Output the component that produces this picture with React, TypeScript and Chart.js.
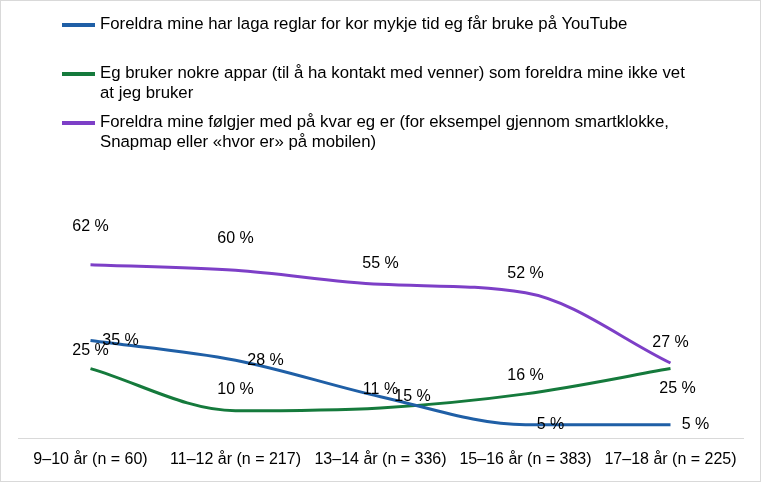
import React, { useEffect, useRef } from "react";
import Chart from "chart.js/auto";

const categories = ["9–10 år (n = 60)", "11–12 år (n = 217)", "13–14 år (n = 336)", "15–16 år (n = 383)", "17–18 år (n = 225)"];
const blueName = "Foreldra mine har laga reglar for kor mykje tid eg får bruke på YouTube";
const greenName = "Eg bruker nokre appar (til å ha kontakt med venner) som foreldra mine ikke vet at jeg bruker";
const purpleName = "Foreldra mine følgjer med på kvar eg er (for eksempel gjennom smartklokke, Snapmap eller «hvor er» på mobilen)";
const blueValues = [35, 28, 15, 5, 5];
const greenValues = [25, 10, 11, 16, 25];
const purpleValues = [62, 60, 55, 52, 27];
const blueLabels = ["35 %", "28 %", "15 %", "5 %", "5 %"];
const greenLabels = ["25 %", "10 %", "11 %", "16 %", "25 %"];
const purpleLabels = ["62 %", "60 %", "55 %", "52 %", "27 %"];
const blueOffsets = [[30, 0], [30, 0], [32, 0], [25, 0], [25, 0]];
const greenOffsets = [[0, -18], [0, -21], [0, -18], [0, -18], [7, 20]];
const purpleOffsets = [[0, -38], [0, -32], [0, -21], [0, -19], [0, -20]];

const BLUE = "#1f5fa6", GREEN = "#157a3c", PURPLE = "#7d3fc7";
const FONT = "'Liberation Sans', Arial";

export default function App() {
  const ref = useRef<HTMLCanvasElement>(null);
  useEffect(() => {
    const labelPlugin = {
      id: "lbl",
      afterDatasetsDraw(chart: any) {
        const ctx = chart.ctx;
        ctx.save();
        ctx.font = "16px " + FONT;
        ctx.fillStyle = "#000";
        ctx.textAlign = "center";
        ctx.textBaseline = "middle";
        const sets = [[blueLabels, blueOffsets], [greenLabels, greenOffsets], [purpleLabels, purpleOffsets]];
        sets.forEach(([labs, offs]: any, di) => {
          const meta = chart.getDatasetMeta(di);
          meta.data.forEach((pt: any, i: number) => {
            ctx.fillText(labs[i], pt.x + offs[i][0], pt.y + offs[i][1]);
          });
        });
        ctx.restore();
      },
    };
    const ds = (label: string, data: number[], color: string) => ({
      label, data, borderColor: color, backgroundColor: color, borderWidth: 3,
      pointRadius: 0, cubicInterpolationMode: "monotone" as const, fill: false,
    });
    const chart = new Chart(ref.current!, {
      type: "line",
      data: { labels: categories, datasets: [ds(blueName, blueValues, BLUE), ds(greenName, greenValues, GREEN), ds(purpleName, purpleValues, PURPLE)] },
      options: {
        animation: false, responsive: false,
        layout: { padding: { left: 18, right: 18, top: 158, bottom: 2 } },
        plugins: { legend: { display: false }, tooltip: { enabled: false } },
        scales: {
          x: { offset: true, grid: { display: false, drawTicks: false }, border: { color: "#d9d9d9" },
            ticks: { color: "#000", font: { size: 16, family: FONT }, padding: 11, maxRotation: 0, autoSkip: false } },
          y: { display: false, min: 0, max: 100 },
        },
      },
      plugins: [labelPlugin],
    });
    return () => chart.destroy();
  }, []);
  const item = (color: string, text: string, top: number) => (
    <div style={{ position: "absolute", left: 62, top, width: 640, display: "flex", alignItems: "flex-start" }}>
      <div style={{ width: 33, height: 4, background: color, marginTop: 9, flex: "none" }} />
      <div style={{ marginLeft: 5, fontSize: 16.8, lineHeight: "20px", fontFamily: FONT, color: "#000" }}>{text}</div>
    </div>
  );
  return (
    <div style={{ position: "fixed", left: 0, top: 0, width: 761, height: 482, background: "#fff" }}>
      <canvas ref={ref} width={761} height={482} style={{ position: "absolute", left: 0, top: 0 }} />
      <div style={{ position: "absolute", left: 0, top: 0, width: 759, height: 480, border: "1px solid #d9d9d9" }} />
      {item(BLUE, blueName, 14)}
      {item(GREEN, greenName, 63)}
      {item(PURPLE, purpleName, 112)}
    </div>
  );
}
